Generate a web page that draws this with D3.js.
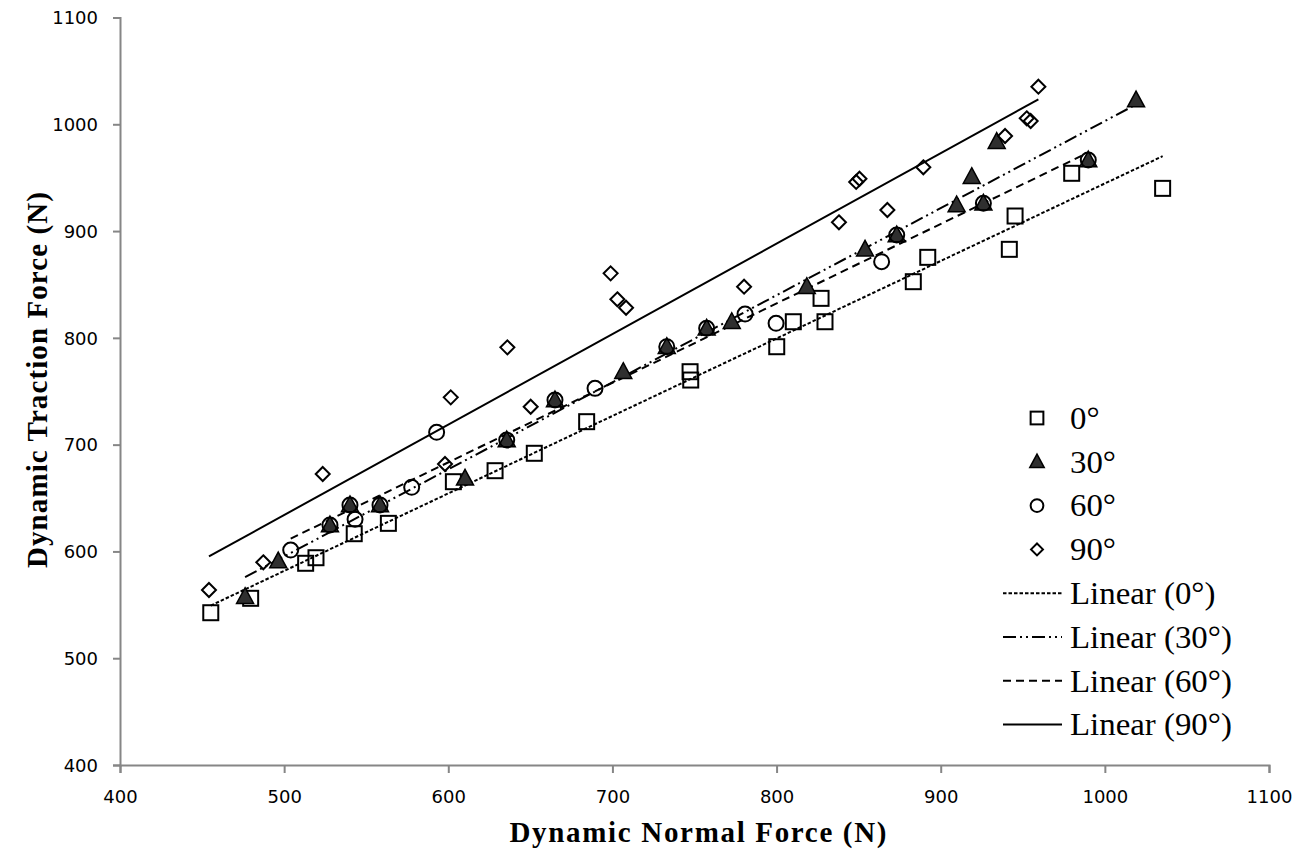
<!DOCTYPE html>
<html>
<head>
<meta charset="utf-8">
<script src="https://cdn.jsdelivr.net/npm/d3@7"></script>
<style>
  html, body { margin: 0; padding: 0; background: #fff; }
  svg { display: block; }
</style>
</head>
<body>
<svg id="chart" width="1306" height="849"></svg>
<script>
// ---- data ----
const seriesNames = ["0°", "30°", "60°", "90°"];

const x0 = [455.3, 479.6, 513.1, 519.4, 542.7, 563.5, 603.1, 628.5, 652.4, 684.3, 747.3, 747.7, 800.1, 810.2, 829.5, 827.1, 883.3, 892.1, 941.8, 945.3, 979.8, 1035.2];
const y0 = [542.6, 556.1, 588.9, 594.1, 616.6, 626.3, 665.3, 675.6, 691.9, 721.5, 768.3, 760.5, 791.7, 815.1, 815.1, 837.0, 852.6, 875.4, 882.9, 914.1, 954.1, 940.0];

const x30 = [476.2, 496.4, 527.9, 540.1, 558.4, 610.2, 635.6, 665.0, 706.6, 733.1, 757.4, 772.7, 818.4, 853.9, 873.2, 909.7, 918.9, 926.0, 934.1, 989.9, 1019.0];
const y30 = [557.6, 591.0, 624.7, 643.5, 643.5, 668.5, 704.3, 741.8, 768.3, 791.7, 808.9, 815.1, 847.9, 882.9, 896.3, 924.4, 950.9, 926.0, 983.7, 966.5, 1022.7];

const x60 = [504.0, 527.9, 540.1, 543.2, 558.4, 577.7, 592.9, 635.6, 665.0, 689.4, 733.1, 757.4, 780.8, 799.7, 864.0, 873.2, 926.0, 989.9];
const y60 = [601.3, 624.7, 643.5, 630.1, 643.5, 660.0, 711.5, 704.3, 741.8, 752.7, 791.7, 808.9, 822.3, 813.6, 871.3, 896.3, 926.0, 966.5];

const x90 = [454.2, 487.3, 523.5, 598.0, 601.5, 636.0, 650.2, 698.9, 703.0, 708.3, 780.2, 838.0, 848.5, 850.5, 867.5, 889.4, 939.2, 952.4, 954.8, 959.5];
const y90 = [563.9, 589.8, 672.5, 681.9, 744.3, 791.1, 735.5, 860.4, 836.1, 828.2, 847.9, 908.2, 946.0, 949.0, 919.7, 959.7, 989.0, 1005.6, 1003.1, 1035.2];

const xTicks = [400, 500, 600, 700, 800, 900, 1000, 1100];
const yTicks = [400, 500, 600, 700, 800, 900, 1000, 1100];
const xTitle = "Dynamic Normal Force (N)";
const yTitle = "Dynamic Traction Force (N)";

// ---- build ----
const series = [
  { name: seriesNames[0], xs: x0,  ys: y0,  marker: "square",   dash: "3.5,2" },
  { name: seriesNames[1], xs: x30, ys: y30, marker: "triangle", dash: "13,4,2,4,2,4" },
  { name: seriesNames[2], xs: x60, ys: y60, marker: "circle",   dash: "8,5" },
  { name: seriesNames[3], xs: x90, ys: y90, marker: "diamond",  dash: null }
];

const svg = d3.select("#chart");
const W = 1306, H = 849;
svg.append("rect").attr("width", W).attr("height", H).attr("fill", "#fff");

const x = d3.scaleLinear().domain([400, 1100]).range([120, 1269]);
const y = d3.scaleLinear().domain([400, 1100]).range([765, 17.5]);

const axisColor = "#868686";
const serif = "'Liberation Serif', 'Times New Roman', serif";

// axes
const xAxis = svg.append("g").attr("transform", `translate(0,${y(400)})`)
  .call(d3.axisBottom(x).tickValues(xTicks).tickSize(8).tickPadding(17).tickFormat(d3.format("d")));
const yAxis = svg.append("g").attr("transform", `translate(${x(400)},0)`)
  .call(d3.axisLeft(y).tickValues(yTicks).tickSize(7).tickPadding(15).tickFormat(d3.format("d")));
[xAxis, yAxis].forEach(g => {
  g.select(".domain").attr("stroke", axisColor).attr("stroke-width", 2);
  g.selectAll(".tick line").attr("stroke", axisColor).attr("stroke-width", 2);
  g.selectAll(".tick text").attr("fill", "#000")
    .style("font-family", "'DejaVu Sans', Verdana, sans-serif").style("font-size", "18px");
});
yAxis.selectAll(".tick text").attr("dy", "0.35em");

// axis titles
svg.append("text").attr("x", 698).attr("y", 842).attr("text-anchor", "middle")
  .style("font-family", serif).style("font-weight", "bold").style("font-size", "29px")
  .attr("textLength", 377).attr("lengthAdjust", "spacing").text(xTitle);
svg.append("text").attr("transform", `translate(47,380) rotate(-90)`).attr("text-anchor", "middle")
  .style("font-family", serif).style("font-weight", "bold").style("font-size", "29px")
  .attr("textLength", 376).attr("lengthAdjust", "spacing").text(yTitle);

// linear trend lines (least squares fit of each series, spanning its x range)
function fit(xs, ys) {
  const mx = d3.mean(xs), my = d3.mean(ys);
  let sxy = 0, sxx = 0;
  xs.forEach((v, i) => { sxy += (v - mx) * (ys[i] - my); sxx += (v - mx) * (v - mx); });
  const b = sxy / sxx, a = my - b * mx;
  const [lo, hi] = d3.extent(xs);
  return [[lo, a + b * lo], [hi, a + b * hi]];
}
const line = d3.line().x(d => x(d[0])).y(d => y(d[1]));
series.forEach(s => {
  svg.append("path").datum(fit(s.xs, s.ys)).attr("d", line)
    .attr("fill", "none").attr("stroke", "#000").attr("stroke-width", 2)
    .attr("stroke-dasharray", s.dash);
});

// markers
function drawMarker(g, type, cx, cy, k) {
  k = k || 1;
  if (type === "square") {
    const s = 15 * k;
    g.append("rect").attr("x", cx - s / 2).attr("y", cy - s / 2).attr("width", s).attr("height", s)
      .attr("fill", "none").attr("stroke", "#000").attr("stroke-width", 2);
  } else if (type === "triangle") {
    const h = 15 * k, w = 17 * k;
    g.append("path").attr("d", `M${cx},${cy - h * 0.6}L${cx + w / 2},${cy + h * 0.45}L${cx - w / 2},${cy + h * 0.45}Z`)
      .attr("fill", "#2f2f2f").attr("stroke", "#000").attr("stroke-width", 1.5);
  } else if (type === "circle") {
    g.append("circle").attr("cx", cx).attr("cy", cy).attr("r", 7.5 * k)
      .attr("fill", "none").attr("stroke", "#000").attr("stroke-width", 2);
  } else {
    const r = 7 * k;
    g.append("path").attr("d", `M${cx},${cy - r}L${cx + r},${cy}L${cx},${cy + r}L${cx - r},${cy}Z`)
      .attr("fill", "none").attr("stroke", "#000").attr("stroke-width", 2);
  }
}
series.forEach(s => {
  const g = svg.append("g");
  s.xs.forEach((v, i) => drawMarker(g, s.marker, x(v), y(s.ys[i])));
});

// legend
const lg = svg.append("g");
const legX = 1037, textX = 1070, row0 = 418, rowH = 43.8;
function legText(cy, str) {
  const t = lg.append("text").attr("x", textX).attr("y", cy).attr("dy", "0.35em")
    .style("font-family", serif).style("font-size", "31px").text(str);
  const len = t.node().getComputedTextLength();
  t.attr("textLength", len * 1.06).attr("lengthAdjust", "spacingAndGlyphs");
}
series.forEach((s, i) => {
  const cy = row0 + i * rowH;
  drawMarker(lg, s.marker, legX, cy, 0.85);
  legText(cy, s.name);
});
series.forEach((s, i) => {
  const cy = row0 + (i + 4) * rowH;
  lg.append("line").attr("x1", 1003).attr("x2", 1062).attr("y1", cy).attr("y2", cy)
    .attr("stroke", "#000").attr("stroke-width", 2).attr("stroke-dasharray", s.dash);
  legText(cy, `Linear (${s.name})`);
});
</script>
</body>
</html>
